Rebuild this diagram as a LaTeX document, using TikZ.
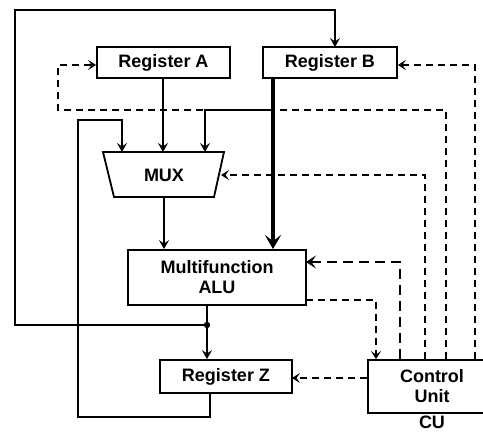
\documentclass[tikz,border=0pt]{standalone}
\usepackage{fontspec}
\setmainfont{Liberation Sans}
\usetikzlibrary{arrows.meta,calc}
\begin{document}
\begin{tikzpicture}[x=1pt,y=-1pt,
  every node/.style={font=\bfseries\fontsize{18}{19}\selectfont},
  box/.style={draw,line width=1.8pt,inner sep=0pt},
  wire/.style={line width=1.7pt,-{Stealth[length=9pt,width=10pt,inset=3.5pt]}},
  plain/.style={line width=1.7pt},
  thickwire/.style={line width=3.8pt,-{Stealth[length=14pt,width=16pt,inset=6pt]}},
  ctrl/.style={line width=1.7pt,dash pattern=on 7pt off 5pt,-{Stealth[length=8pt,width=10pt,inset=3.5pt]}},
  ctrlthick/.style={line width=2.6pt,dash pattern=on 10pt off 6pt,-{Stealth[length=10pt,width=13pt,inset=4.5pt]}}]
\useasboundingbox (0,0) rectangle (483,435);

% boxes
\node[box,minimum width=133pt,minimum height=31pt] (regA) at (163.5,62.5) {Register A};
\node[box,minimum width=134pt,minimum height=31pt] (regB) at (330,62.5) {Register B};
\node[box,minimum width=178pt,minimum height=55pt,align=center] (alu) at (217,277.5) {Multifunction\\[1pt]ALU};
\node[box,minimum width=132pt,minimum height=33pt] (regZ) at (226,376.5) {Register Z};
\node[box,minimum width=128pt,minimum height=53pt,align=center] (cu) at (432,386.5) {Control\\[1pt]Unit};
\node[inner sep=0pt] (cul) at (432,422) {CU};

% MUX trapezoid
\coordinate (m1) at (103,152);
\coordinate (m2) at (224,152);
\coordinate (m3) at (214,197);
\coordinate (m4) at (114,197);
\draw[line width=1.8pt] (m1) -- (m2) -- (m3) -- (m4) -- cycle;
\node (mux) at (164,175) {MUX};

% named coordinates
\coordinate (j) at (207,325);
\coordinate (bsplit) at (273,110);
\coordinate (loopL) at (15,10);
\coordinate (zL) at (78,417);
\coordinate (zT) at (78,120);
\coordinate (aL) at (58,110);
\coordinate (muxR) at (221,175);
\coordinate (aluR1) at (306,262);
\coordinate (aluR2) at (306,300);
\coordinate (zR) at (292,378);

% solid data paths
\draw[wire] (163,78) -- (163,152);
\draw[thickwire] (regB.south -| bsplit) -- (alu.north -| bsplit);
\draw[wire] (bsplit) -- (205,110) -- (205,152);
\draw[wire] (mux.center |- m4) -- (mux.center |- alu.north);
\draw[plain] (alu.south -| j) -- (j);
\draw[wire] (j) -- (j |- regZ.north);
\draw[wire] (j) -- (loopL |- j) -- (loopL) -- (335,10) -- (335,47);
\draw[wire] (regZ.south -| 210,0) -- (210,417) -- (zL) -- (zT) -- (122,120) -- (122,152);
\fill (j) circle (3.2pt);

% control (dashed) paths
\draw[ctrl] (cu.north -| 446,0) -- (446,110) -- (aL) -- (58,65) -- (regA.west |- 0,65);
\draw[ctrl] (cu.north -| 475,0) -- (475,65) -- (regB.east |- 0,65);
\draw[ctrl] (cu.north -| 425,0) -- (425,175) -- (muxR);
\draw[ctrlthick] (cu.north -| 400,0) -- (400,262) -- (aluR1);
\draw[ctrl] (aluR2) -- (376,300) -- (cu.north -| 376,0);
\draw[ctrl] (cu.west |- zR) -- (zR);
% redraw solid overlap
\draw[plain] (bsplit) -- (205,110);
\end{tikzpicture}
\end{document}
